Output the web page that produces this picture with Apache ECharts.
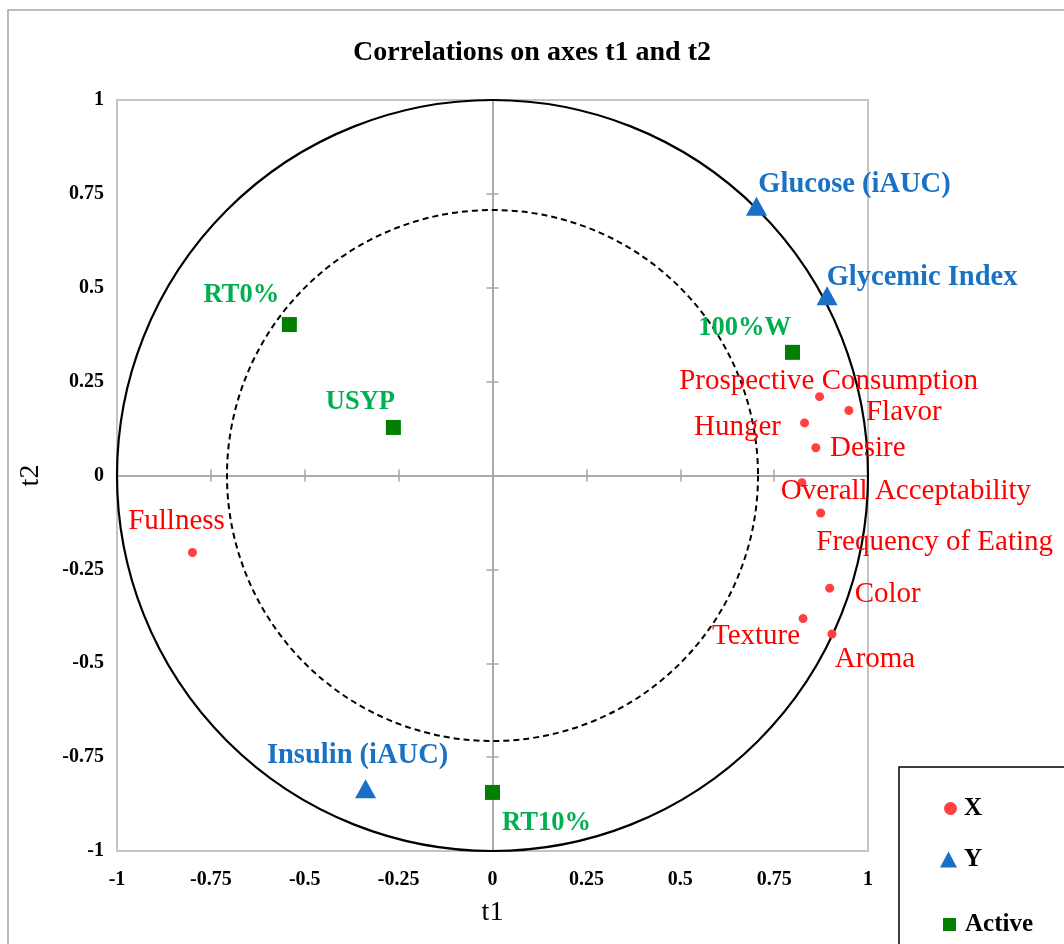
<!DOCTYPE html>
<html>
<head>
<meta charset="utf-8">
<script src="https://cdn.jsdelivr.net/npm/echarts@6/dist/echarts.min.js"></script>
<style>
  html, body { margin: 0; padding: 0; background: #fff; }
  #chart { width: 1064px; height: 944px; }
</style>
</head>
<body>
<div id="chart"></div>
<script>
// X variables (red dots)
var xNames = ['Fullness', 'Prospective Consumption', 'Flavor', 'Hunger', 'Desire',
  'Overall Acceptability', 'Frequency of Eating', 'Color', 'Texture', 'Aroma'];
var xT1 = [-0.799, 0.871, 0.949, 0.831, 0.861, 0.824, 0.874, 0.898, 0.827, 0.904];
var xT2 = [-0.205, 0.210, 0.173, 0.140, 0.074, -0.019, -0.100, -0.300, -0.381, -0.422];

// Y variables (blue triangles)
var yNames = ['Glucose (iAUC)', 'Glycemic Index', 'Insulin (iAUC)'];
var yT1 = [0.703, 0.891, -0.338];
var yT2 = [0.717, 0.479, -0.834];

// active observations (green squares)
var aNames = ['RT0%', 'USYP', '100%W', 'RT10%'];
var aT1 = [-0.541, -0.264, 0.799, 0.000];
var aT2 = [0.402, 0.128, 0.328, -0.844];

var ticks = ['-1', '-0.75', '-0.5', '-0.25', '0', '0.25', '0.5', '0.75', '1'];

// label offsets in pixels (label centre relative to the mark)
var labelShift = {
  'Fullness': [-16, -31],
  'Prospective Consumption': [9, -15],
  'Flavor': [55, 2],
  'Hunger': [-67, 4],
  'Desire': [52, 1],
  'Overall Acceptability': [104, 9],
  'Frequency of Eating': [114, 29],
  'Color': [58, 6],
  'Texture': [-47, 18],
  'Aroma': [43, 25],
  'Glucose (iAUC)': [98, -22],
  'Glycemic Index': [95, -18],
  'Insulin (iAUC)': [-8, -33],
  'RT0%': [-48, -29],
  'USYP': [-33, -25],
  '100%W': [-48, -24],
  'RT10%': [54, 31]
};

var serif = '"Liberation Serif", "DejaVu Serif", serif';

function points(names, t1, t2) {
  return names.map(function (n, i) {
    return {
      name: n,
      value: [t1[i], t2[i]],
      label: { offset: labelShift[n] }
    };
  });
}

var chart = echarts.init(document.getElementById('chart'));

function tickFmt(v) {
  var s = String(Math.round(v * 100) / 100);
  return ticks.indexOf(s) >= 0 ? s : '';
}

var zeroAxis = function (inside) {
  return {
    type: 'value', min: -1, max: 1, interval: 0.25,
    axisLine: { show: true, onZero: true, lineStyle: { color: '#a6a6a6', width: 1.5 } },
    axisTick: { show: true, inside: inside, length: 6, lineStyle: { color: '#a6a6a6', width: 1.5 } },
    axisLabel: { show: false },
    splitLine: { show: false }
  };
};

var option = {
  animation: false,
  backgroundColor: '#fff',
  title: {
    text: 'Correlations on axes t1 and t2',
    left: 'center',
    top: 34,
    textStyle: { fontFamily: serif, fontSize: 28, fontWeight: 'bold', color: '#000' }
  },
  grid: {
    left: 117, top: 100, width: 751, height: 751,
    show: true, borderColor: '#c4c4c4', borderWidth: 2, backgroundColor: 'transparent'
  },
  xAxis: [
    {
      type: 'value', min: -1, max: 1, interval: 0.25, position: 'bottom',
      axisLine: { show: false, onZero: false },
      axisTick: { show: false },
      splitLine: { show: false },
      axisLabel: {
        margin: 19, formatter: tickFmt,
        fontFamily: serif, fontSize: 20, fontWeight: 'bold', color: '#000'
      },
      name: 't1', nameLocation: 'middle', nameGap: 48,
      nameTextStyle: { fontFamily: serif, fontSize: 28, color: '#000' }
    },
    zeroAxis(false),
    zeroAxis(true)
  ],
  yAxis: [
    {
      type: 'value', min: -1, max: 1, interval: 0.25, position: 'left',
      axisLine: { show: false, onZero: false },
      axisTick: { show: false },
      splitLine: { show: false },
      axisLabel: {
        margin: 13, formatter: tickFmt,
        fontFamily: serif, fontSize: 20, fontWeight: 'bold', color: '#000'
      },
      name: 't2', nameLocation: 'middle', nameGap: 72,
      nameTextStyle: { fontFamily: serif, fontSize: 28, color: '#000' }
    },
    zeroAxis(false),
    zeroAxis(true)
  ],
  legend: [
    {
      data: [{ name: 'X', icon: 'circle' }], left: 939, top: 791,
      itemWidth: 13, itemHeight: 13, itemGap: 0,
      textStyle: { fontFamily: serif, fontSize: 25, fontWeight: 'bold', color: '#000', padding: [0, 0, 0, 2] }
    },
    {
      data: [{ name: 'Y', icon: 'triangle' }], left: 935, top: 842,
      itemWidth: 17, itemHeight: 16, itemGap: 0,
      textStyle: { fontFamily: serif, fontSize: 25, fontWeight: 'bold', color: '#000', padding: [0, 0, 0, 2] }
    },
    {
      data: [{ name: 'Active', icon: 'rect' }], left: 938, top: 907,
      itemWidth: 13, itemHeight: 13, itemGap: 0,
      textStyle: { fontFamily: serif, fontSize: 25, fontWeight: 'bold', color: '#000', padding: [0, 0, 0, 4] }
    }
  ],
  graphic: [
    {
      id: 'outer', type: 'rect', z: 0, silent: true,
      shape: { x: 8, y: 10, width: 1100, height: 1000 },
      style: { fill: null, stroke: '#a6a6a6', lineWidth: 1.5 }
    },
    {
      id: 'legendBox', type: 'rect', z: 3, silent: true,
      shape: { x: 899, y: 767, width: 200, height: 220 },
      style: { fill: '#fff', stroke: '#000', lineWidth: 1.5 }
    }
  ],
  series: [
    {
      name: 'X', type: 'scatter', z: 4,
      symbol: 'circle', symbolSize: 9,
      itemStyle: { color: '#ff4040', opacity: 1 },
      label: {
        show: true, position: 'inside', formatter: '{b}',
        align: 'center', verticalAlign: 'middle',
        fontFamily: serif, fontSize: 29, color: '#ff0000'
      },
      data: points(xNames, xT1, xT2)
    },
    {
      name: 'Y', type: 'scatter', z: 4,
      symbol: 'triangle', symbolSize: [21, 19],
      itemStyle: { color: '#1a6fc7', opacity: 1 },
      label: {
        show: true, position: 'inside', formatter: '{b}',
        align: 'center', verticalAlign: 'middle',
        fontFamily: serif, fontSize: 28.5, fontWeight: 'bold', color: '#1a72c4'
      },
      data: points(yNames, yT1, yT2)
    },
    {
      name: 'Active', type: 'scatter', z: 4,
      symbol: 'rect', symbolSize: 15,
      itemStyle: { color: '#007f00', opacity: 1 },
      label: {
        show: true, position: 'inside', formatter: '{b}',
        align: 'center', verticalAlign: 'middle',
        fontFamily: serif, fontSize: 26.5, fontWeight: 'bold', color: '#00b050'
      },
      data: points(aNames, aT1, aT2)
    }
  ]
};

chart.setOption(option);

// correlation circles (r = 1 and r = sqrt(0.5)), placed through the axes' scales
var c0 = chart.convertToPixel({ xAxisIndex: 0, yAxisIndex: 0 }, [0, 0]);
var c1 = chart.convertToPixel({ xAxisIndex: 0, yAxisIndex: 0 }, [1, 0]);
var c2 = chart.convertToPixel({ xAxisIndex: 0, yAxisIndex: 0 }, [Math.SQRT1_2, 0]);
chart.setOption({
  graphic: [
    {
      id: 'unitCircle', type: 'circle', z: 2, silent: true,
      shape: { cx: c0[0], cy: c0[1], r: c1[0] - c0[0] },
      style: { fill: null, stroke: '#000', lineWidth: 2.2 }
    },
    {
      id: 'halfCircle', type: 'circle', z: 2, silent: true,
      shape: { cx: c0[0], cy: c0[1], r: c2[0] - c0[0] },
      style: { fill: null, stroke: '#000', lineWidth: 2, lineDash: [6, 4] }
    }
  ]
});
</script>
</body>
</html>
